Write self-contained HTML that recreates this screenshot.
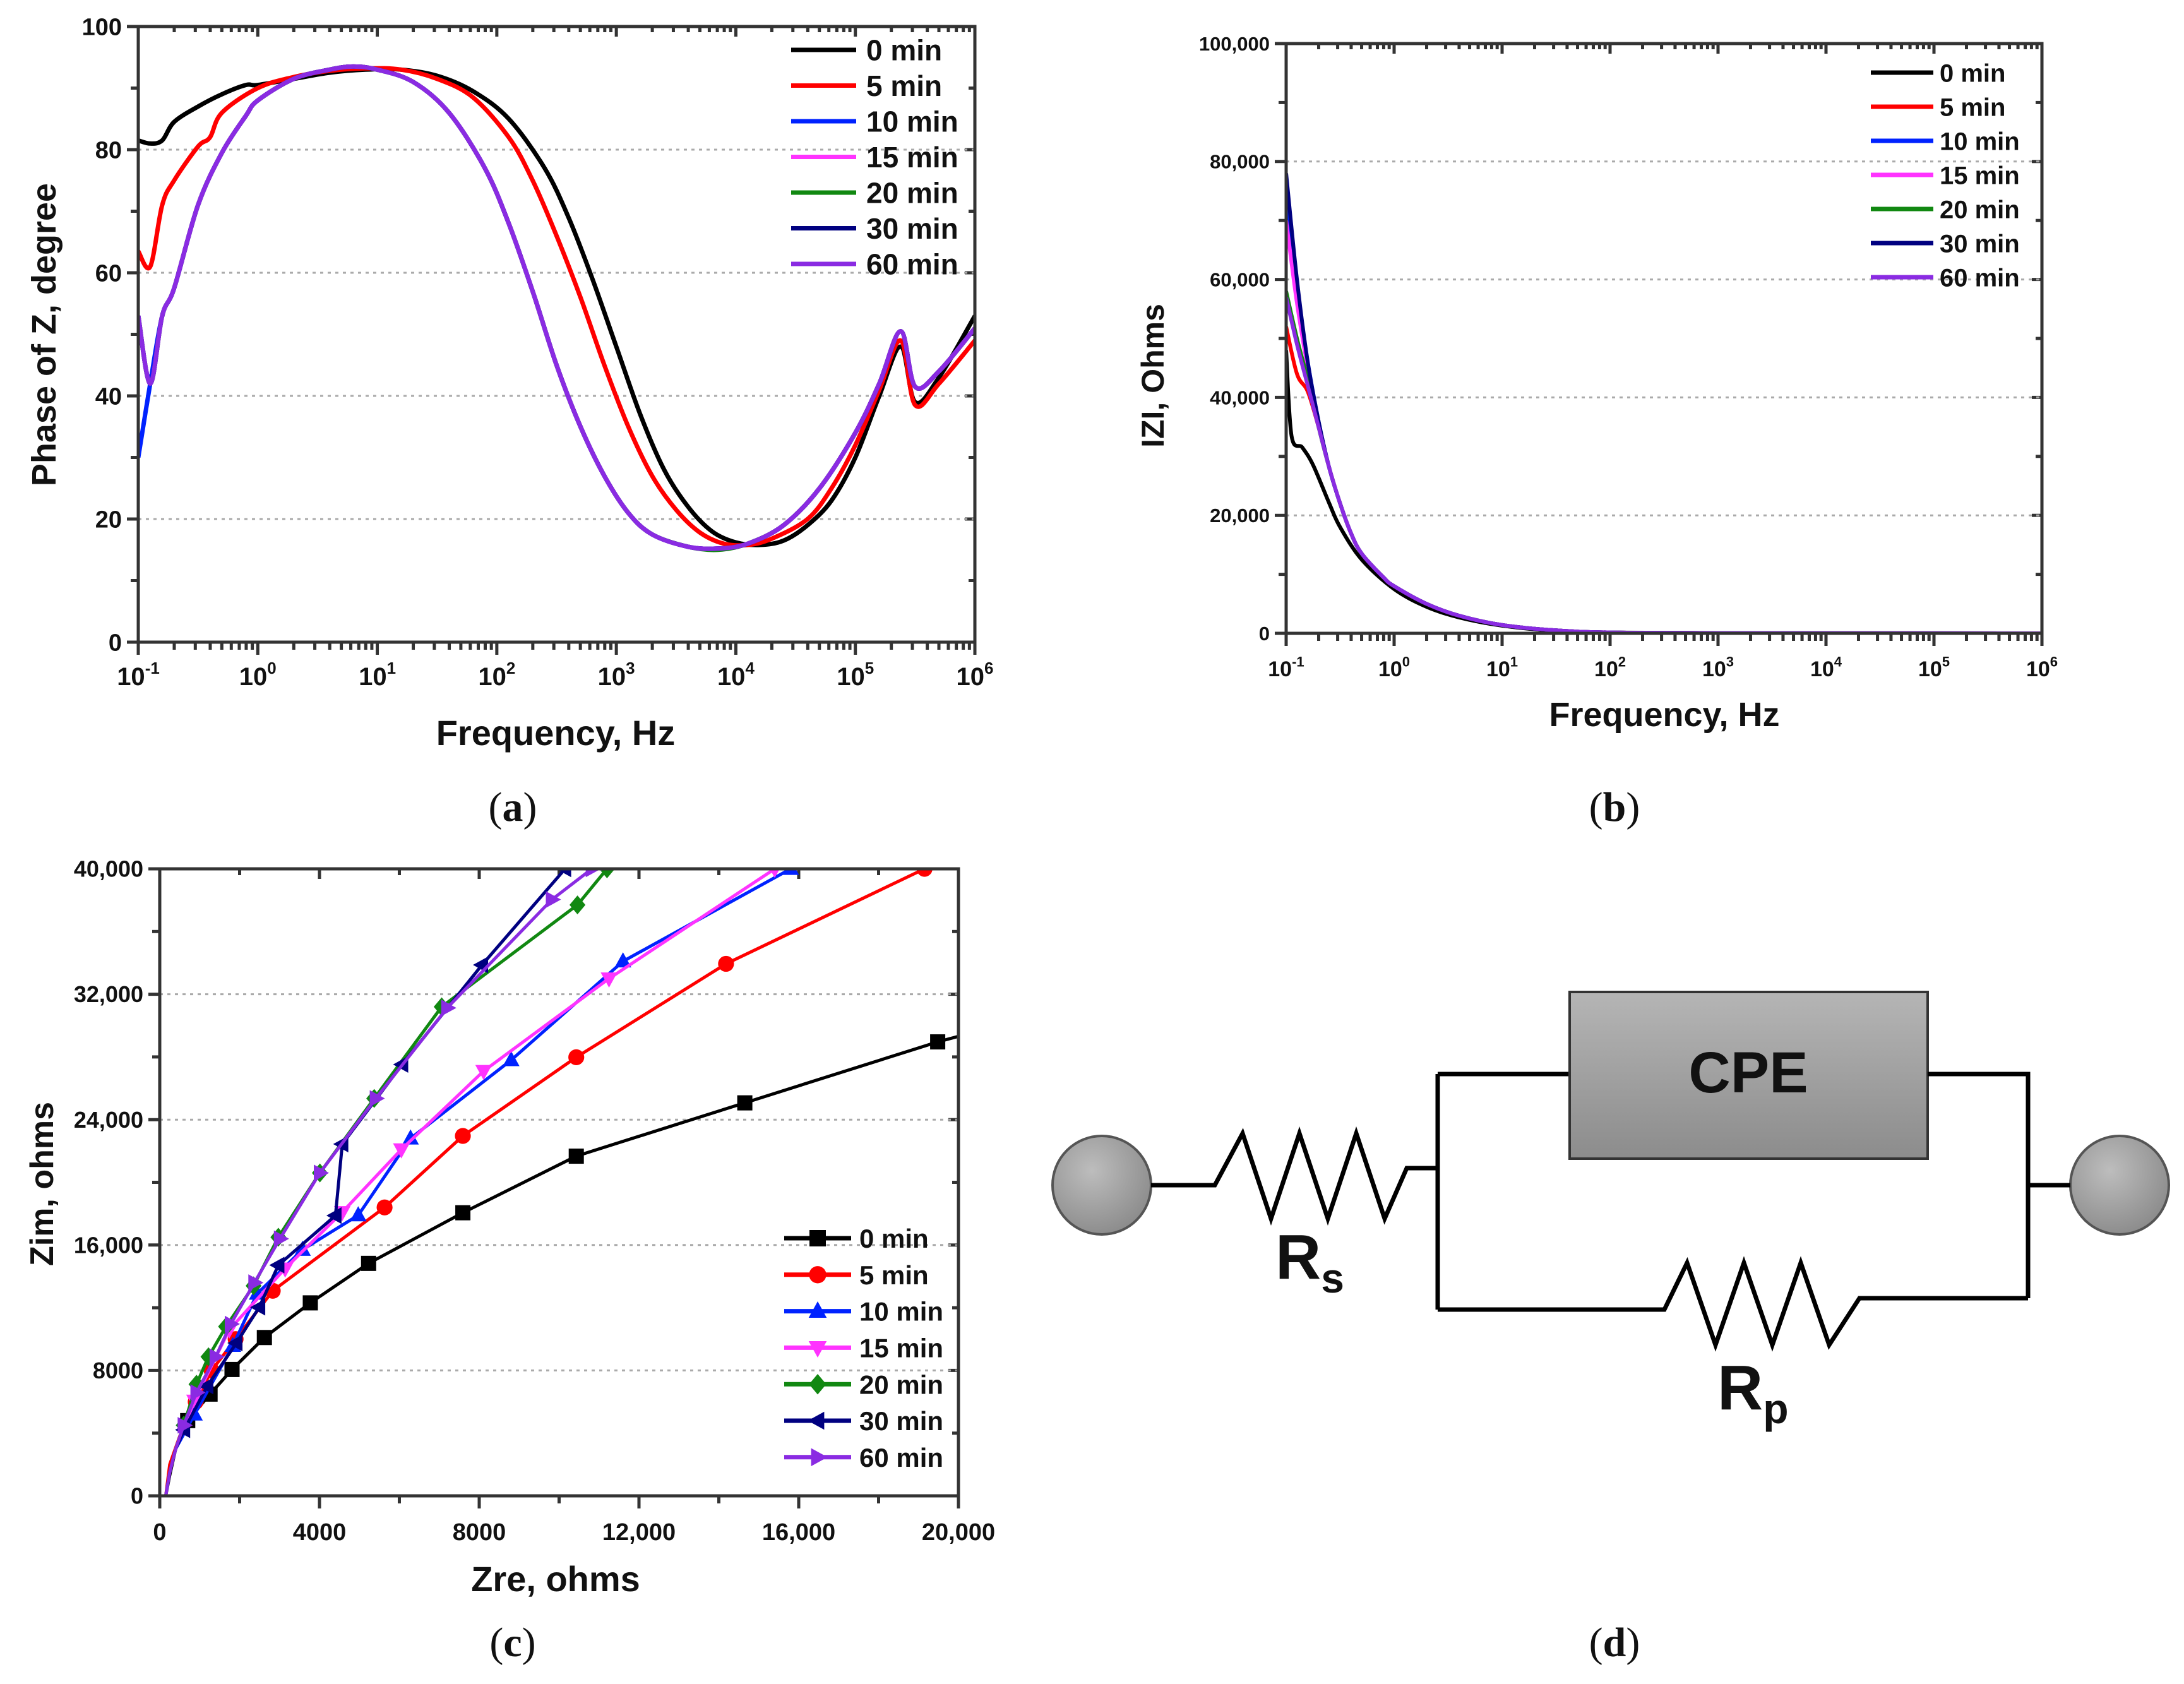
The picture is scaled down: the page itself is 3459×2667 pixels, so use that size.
<!DOCTYPE html>
<html><head><meta charset="utf-8">
<style>
html,body{margin:0;padding:0;background:#fff;}
svg{display:block;}
.t{font-family:"Liberation Sans Narrow","Liberation Sans",sans-serif;font-weight:bold;fill:#111;}
.ta{font-family:"Liberation Sans",sans-serif;font-weight:bold;fill:#111;}
.sf{font-family:"Liberation Serif",serif;fill:#111;}
</style></head>
<body>
<svg id="root" width="3459" height="2667" viewBox="0 0 3459 2667" xmlns="http://www.w3.org/2000/svg">
<rect width="3459" height="2667" fill="#fff"/>
<text class="sf" x="812" y="1300" font-size="66" text-anchor="middle">(<tspan font-weight="bold">a</tspan>)</text>
<text class="sf" x="2557" y="1300" font-size="66" text-anchor="middle">(<tspan font-weight="bold">b</tspan>)</text>
<text class="sf" x="812" y="2623" font-size="66" text-anchor="middle">(<tspan font-weight="bold">c</tspan>)</text>
<text class="sf" x="2557" y="2623" font-size="66" text-anchor="middle">(<tspan font-weight="bold">d</tspan>)</text>
<g id="circuit" stroke="#000" stroke-width="7" fill="none" stroke-linejoin="miter">
  <defs><radialGradient id="gball" cx="0.4" cy="0.35" r="0.7"><stop offset="0" stop-color="#bdbdbd"/><stop offset="1" stop-color="#8a8a8a"/></radialGradient>
  <linearGradient id="gbox" x1="0" y1="0" x2="0" y2="1"><stop offset="0" stop-color="#b5b5b5"/><stop offset="1" stop-color="#8c8c8c"/></linearGradient></defs>
  <circle cx="1745" cy="1877" r="78" fill="url(#gball)" stroke="#555" stroke-width="4"/>
  <circle cx="3357" cy="1877" r="78" fill="url(#gball)" stroke="#555" stroke-width="4"/>
  <polyline points="1823,1877 1924,1877 1968,1795 2013,1930 2058,1795 2103,1930 2148,1795 2193,1930 2228,1850 2277,1850"/>
  <polyline points="2277,1701 2277,2074"/>
  <polyline points="2277,1701 2486,1701"/>
  <rect x="2486" y="1571" width="567" height="264" fill="url(#gbox)" stroke="#333" stroke-width="4"/>
  <polyline points="3053,1701 3212,1701 3212,2056"/>
  <polyline points="3212,1877 3279,1877"/>
  <polyline points="2277,2074 2636,2074 2672,2000 2717,2130 2762,2000 2807,2130 2852,2000 2897,2130 2945,2056 3212,2056"/>
</g>
<text class="ta" x="2769" y="1730" font-size="92" text-anchor="middle">CPE</text>
<text class="ta" x="2020" y="2025" font-size="100">R<tspan font-size="66" dy="22">s</tspan></text>
<text class="ta" x="2720" y="2232" font-size="100">R<tspan font-size="66" dy="22">p</tspan></text>
</svg>
<script>
// ---------- DATA ----------
const seriesNames = ['0 min','5 min','10 min','15 min','20 min','30 min','60 min'];
const seriesColors = ['#000000','#ff0000','#0022ff','#ff33ff','#118811','#000080','#8a2be2'];
// Panel (a): phase vs log10(frequency)
const phaseLogF0 = [-1,-0.9,-0.8,-0.7,-0.5,-0.3,-0.1,0,0.3,0.6,0.9,1.2,1.5,1.8,2.1,2.4,2.6,2.8,3.0,3.2,3.4,3.6,3.8,4.0,4.2,4.4,4.6,4.8,5.0,5.2,5.38,5.5,5.7,6];
const phase0 = [81.5,81,81.5,84.5,87,89,90.5,90.5,91.5,92.5,93,93,92,89.5,85,77,69,59,48,37,28,22,18,16.2,15.8,16.5,19,23,30,40,48,39,43,53];
const phaseLogF5 = [-1,-0.9,-0.8,-0.7,-0.5,-0.4,-0.3,0,0.3,0.6,0.9,1.2,1.5,1.8,2.1,2.3,2.5,2.7,2.9,3.1,3.3,3.5,3.7,3.9,4.1,4.3,4.6,4.8,5.0,5.2,5.38,5.5,5.7,6];
const phase5 = [63.5,61,71,75,80.5,82,86,90,91.8,92.8,93.2,93,91.5,88.5,82,75,66,56,45,35,27,21.5,17.8,16,15.8,16.8,20,25,32,41,49,38.5,42,49];
const phaseLogFX = [-1,-0.9,-0.8,-0.7,-0.5,-0.3,-0.1,0,0.3,0.6,0.8,1.0,1.3,1.6,1.9,2.1,2.3,2.5,2.7,2.9,3.1,3.3,3.6,3.85,4.1,4.4,4.7,5.0,5.2,5.38,5.5,5.7,6];
const phase10 = [30,42,53,57.5,71,79.5,85.5,88,91.5,93,93.5,93,91,86,77,68,57,45,35,27,21,17.5,15.5,15.2,16,19,25,34,42,50.5,41.5,44,51];
const phase15 = [53,42,53,57.5,71,79.5,85.5,88,91.5,93,93.5,93,91,86,77,68,57,45,35,27,21,17.5,15.5,15.2,16,19,25,34,42,50.5,41.5,44,51];
const phase20 = [53,42,53,57.5,71,79.5,85.5,88,91.5,93,93.5,93,91,86,77,68,57,45,35,27,21,17.5,15.5,15.0,16,19,25,34,42,50.5,41.5,44,51];
const phase30 = [53,42,53,57.5,71,79.5,85.5,88,91.5,93,93.5,93,91,86,77,68,57,45,35,27,21,17.5,15.5,15.2,16,19,25,34,42,50.5,41.5,44,51];
const phase60 = [53,42,53,57.5,71,79.5,85.5,88,91.5,93,93.5,93,91,86,77,68,57,45,35,27,21,17.5,15.5,15.2,16,19,25,34,42,50.5,41.5,44,51];
// Panel (b): |Z| vs log10(frequency)
const zLogF0 = [-1,-0.95,-0.85,-0.75,-0.6,-0.5,-0.3,0,0.3,0.6,1,1.5,2,3,6];
const zmod0 = [48000,33500,31500,28500,22000,18000,12500,7500,4500,2700,1300,400,150,50,0];
const zLogF = [-1,-0.9,-0.8,-0.7,-0.6,-0.5,-0.4,-0.3,-0.1,0,0.3,0.6,1,1.5,2,3,6];
const zmod5 = [52000,44000,41000,35000,28000,22000,17000,13500,9500,8000,5000,3000,1400,500,150,40,0];
const zmod10 = [72000,58000,46000,36000,28000,22000,17000,13500,9500,8000,5000,3000,1400,500,150,40,0];
const zmod15 = [70000,56000,45000,35500,28000,22000,17000,13500,9500,8000,5000,3000,1400,500,150,40,0];
const zmod20 = [58000,50000,43000,35000,28000,22000,17000,13500,9500,8000,5000,3000,1400,500,150,40,0];
const zmod30 = [78000,60000,46000,36000,28000,22000,17000,13500,9500,8000,5000,3000,1400,500,150,40,0];
const zmod60 = [57000,49000,42000,35000,28000,22000,17000,13500,9500,8000,5000,3000,1400,500,150,40,0];
// Panel (c): Nyquist (Zre, Zim) in ohms
const zre0 = [150,250,400,700,1260,1810,2620,3770,5230,7590,10430,14650,19480,21000];
const zim0 = [0,1300,3000,4800,6490,8060,10100,12310,14830,18060,21670,25070,28960,30000];
const zre5 = [150,250,500,900,1300,1900,2830,5630,7590,10430,14180,19150,20500];
const zim5 = [0,2000,3800,6000,8000,10000,13080,18400,22960,27980,33940,40000,40900];
const zre10 = [150,250,400,870,1830,2440,3575,4970,6280,8800,11600,15800,16500];
const zim10 = [0,1500,3000,5190,9570,12900,15700,17900,22800,27800,34100,40000,40600];
const zre15 = [150,250,400,870,1740,3140,4570,6050,8110,11250,15400,16000];
const zim15 = [0,1500,3000,6070,10600,14500,18100,22100,27100,33000,40000,40600];
const zre20 = [150,250,400,600,920,1220,1660,2350,2970,4010,5370,7060,10460,11200,11600];
const zim20 = [0,1500,3000,4500,7120,8870,10800,13400,16500,20600,25350,31200,37700,40000,40800];
const zre30 = [150,250,400,610,1190,1920,2490,2970,4400,4570,6070,8070,10150,10500];
const zim30 = [0,1500,3000,4210,7010,9750,12030,14720,17880,22440,27520,33870,40000,40800];
const zre60 = [150,250,400,600,920,1400,1780,2370,3010,4010,5410,7200,9820,10820,11200];
const zim60 = [0,1500,3000,4500,6590,8870,10960,13600,16400,20600,25350,31130,38040,40000,40400];
const markerEvery = [1,1,1,1,1,1,1];
const phaseTicks = [0,20,40,60,80,100];
const zmodTicks = [0,20000,40000,60000,80000,100000];
const zmodTickLabels = ['0','20,000','40,000','60,000','80,000','100,000'];
const nyqXTicks = [0,4000,8000,12000,16000,20000];
const nyqXTickLabels = ['0','4000','8000','12,000','16,000','20,000'];
const nyqYTicks = [0,8000,16000,24000,32000,40000];
const nyqYTickLabels = ['0','8000','16,000','24,000','32,000','40,000'];
const decades = [-1,0,1,2,3,4,5,6];

// ---------- HELPERS ----------
const NS='http://www.w3.org/2000/svg';
const root=document.getElementById('root');
function mk(tag,attrs,parent){const e=document.createElementNS(NS,tag);for(const k in attrs)e.setAttribute(k,attrs[k]);(parent||root).appendChild(e);return e;}
function pathFrom(xs,ys,sx,sy){return xs.map((x,i)=>(i?'L':'M')+sx(x).toFixed(1)+','+sy(ys[i]).toFixed(1)).join(' ');}
function smoothPath(xs,ys,sx,sy){
  const P=xs.map((x,i)=>[sx(x),sy(ys[i])]);
  let d='M'+P[0][0].toFixed(1)+','+P[0][1].toFixed(1);
  for(let i=0;i<P.length-1;i++){
    const p0=P[Math.max(0,i-1)],p1=P[i],p2=P[i+1],p3=P[Math.min(P.length-1,i+2)];
    const c1=[p1[0]+(p2[0]-p0[0])/6,p1[1]+(p2[1]-p0[1])/6];
    const c2=[p2[0]-(p3[0]-p1[0])/6,p2[1]-(p3[1]-p1[1])/6];
    d+=' C'+c1[0].toFixed(1)+','+c1[1].toFixed(1)+' '+c2[0].toFixed(1)+','+c2[1].toFixed(1)+' '+p2[0].toFixed(1)+','+p2[1].toFixed(1);
  }
  return d;
}

function frame(g,L,T,R,B,name){
  const r=mk('rect',{x:L,y:T,width:R-L,height:B-T,fill:'none',stroke:'#333',"stroke-width":5},g);
  
  
}
function hgrid(g,L,R,y,name){
  const l=mk('line',{x1:L,x2:R,y1:y,y2:y,stroke:'#aaa',"stroke-width":3,"stroke-dasharray":"5,7"},g);
  
  
}
function tick(g,x1,y1,x2,y2){mk('line',{x1:x1,y1:y1,x2:x2,y2:y2,stroke:'#333',"stroke-width":5},g);}

function logXAxis(g,sx,B,T,fs,name){
  decades.forEach(d=>{
    const x=sx(d);
    tick(g,x,B,x,B+20);tick(g,x,T,x,T+16);
    const t=mk('text',{x:x,y:B+68,"font-size":fs,"text-anchor":"middle",class:'ta'},g);
    
    
    t.textContent='10';
    const s=mk('tspan',{dy:-fs*0.45,"font-size":fs*0.65},t);s.textContent=(d<0?'-':'')+Math.abs(d);
    if(d<6){for(let k=2;k<10;k++){const xm=sx(d+Math.log10(k));tick(g,xm,B,xm,B+12);tick(g,xm,T,xm,T+9);}}
  });
}
function linYAxis(g,sy,L,R,ticks,labels,fs,name){
  ticks.forEach((v,i)=>{
    const y=sy(v);
    tick(g,L-18,y,L,y);tick(g,R-16,y,R,y);
    if(i<ticks.length-1){const ym=(y+sy(ticks[i+1]))/2;tick(g,L-12,ym,L,ym);tick(g,R-10,ym,R,ym);}
    if(i>0&&i<ticks.length-1)hgrid(g,L,R,y,name);
    const t=mk('text',{x:L-26,y:y+fs*0.35,"font-size":fs,"text-anchor":"end",class:'t'},g);
    
    
    t.textContent=labels[i];
  });
}
function legend(g,x1,x2,tx,y0,dy,fs,name,withMarkers){
  seriesNames.forEach((n,i)=>{
    const y=y0+dy*i;
    const l=mk('line',{x1:x1,x2:x2,y1:y,y2:y,stroke:seriesColors[i],"stroke-width":7},g);
    
    
    if(withMarkers)marker(g,(x1+x2)/2,y,i,26);
    const t=mk('text',{x:tx,y:y+fs*0.36,"font-size":fs,class:'t'},g);
    
    
    t.textContent=n;
  });
}
function marker(g,x,y,i,s){
  const c=seriesColors[i],h=s/2;let e;
  if(i===0)e=mk('rect',{x:x-h,y:y-h,width:s,height:s,fill:c},g);
  else if(i===1)e=mk('circle',{cx:x,cy:y,r:h*1.05,fill:c},g);
  else{
    let p;
    if(i===2)p=[[x,y-h*1.2],[x+h*1.1,y+h*0.8],[x-h*1.1,y+h*0.8]];
    else if(i===3)p=[[x,y+h*1.2],[x+h*1.1,y-h*0.8],[x-h*1.1,y-h*0.8]];
    else if(i===4)p=[[x,y-h*1.25],[x+h*1.05,y],[x,y+h*1.25],[x-h*1.05,y]];
    else if(i===5)p=[[x-h*1.2,y],[x+h*0.8,y-h*1.1],[x+h*0.8,y+h*1.1]];
    else p=[[x+h*1.2,y],[x-h*0.8,y-h*1.1],[x-h*0.8,y+h*1.1]];
    e=mk('polygon',{points:p.map(q=>q.join(',')).join(' '),fill:c},g);
  }
  
  
}
function axisTitleY(g,x,y,txt,fs,name,cls){
  const t=mk('text',{x:x,y:y,"font-size":fs,"text-anchor":"middle",class:cls||'ta',transform:'rotate(-90 '+x+' '+y+')'},g);
  
  
  t.textContent=txt;
}
function axisTitleX(g,x,y,txt,fs,name){
  const t=mk('text',{x:x,y:y,"font-size":fs,"text-anchor":"middle",class:'t'},g);
  
  
  t.textContent=txt;
}
function clip(id,L,T,R,B){const cp=mk('clipPath',{id:id});mk('rect',{x:L,y:T,width:R-L,height:B-T},cp);}

// ---------- PANEL A ----------
(function(){
  const L=219,T=42,R=1544,B=1017;
  const g=mk('g',{});
  
  
  const sx=v=>L+(v+1)/7*(R-L), sy=v=>B-v/100*(B-T);
  linYAxis(g,sy,L,R,phaseTicks,phaseTicks.map(String),38,'phase');
  logXAxis(g,sx,B,T,40,'phase');
  clip('ca',L,T,R,B);
  const lines=[[phaseLogF0,phase0],[phaseLogF5,phase5],[phaseLogFX,phase10],[phaseLogFX,phase15],[phaseLogFX,phase20],[phaseLogFX,phase30],[phaseLogFX,phase60]];
  lines.forEach((s,i)=>{
    const p=mk('path',{d:smoothPath(s[0],s[1],sx,sy),fill:'none',stroke:seriesColors[i],"stroke-width":7,"stroke-linejoin":"round","clip-path":"url(#ca)"},g);
    
    
  });
  frame(g,L,T,R,B,'phase');
  legend(g,1253,1356,1372,79,56.5,46,'phase',false);
  axisTitleY(g,88,530,'Phase of Z, degree',54,'phase');
  axisTitleX(g,880,1180,'Frequency, Hz',56,'phase');
})();

// ---------- PANEL B ----------
(function(){
  const L=2037,T=69,R=3234,B=1003;
  const g=mk('g',{});
  
  
  const sx=v=>L+(v+1)/7*(R-L), sy=v=>B-v/100000*(B-T);
  linYAxis(g,sy,L,R,zmodTicks,zmodTickLabels,31,'modulus');
  logXAxis(g,sx,B,T,34,'modulus');
  clip('cb',L,T,R,B);
  const lines=[[zLogF0,zmod0],[zLogF,zmod5],[zLogF,zmod10],[zLogF,zmod15],[zLogF,zmod20],[zLogF,zmod30],[zLogF,zmod60]];
  lines.forEach((s,i)=>{
    const p=mk('path',{d:smoothPath(s[0],s[1],sx,sy),fill:'none',stroke:seriesColors[i],"stroke-width":6,"stroke-linejoin":"round","clip-path":"url(#cb)"},g);
    
    
  });
  frame(g,L,T,R,B,'modulus');
  legend(g,2963,3062,3072,115,54,40,'modulus',false);
  axisTitleY(g,1843,595,'IZI, Ohms',50,'modulus');
  axisTitleX(g,2636,1150,'Frequency, Hz',54,'modulus');
})();

// ---------- PANEL C ----------
(function(){
  const L=253,T=1376,R=1518,B=2369;
  const g=mk('g',{});
  
  
  const sx=v=>L+v/20000*(R-L), sy=v=>B-v/40000*(B-T);
  linYAxis(g,sy,L,R,nyqYTicks,nyqYTickLabels,36,'nyquist');
  nyqXTicks.forEach((v,i)=>{
    const x=sx(v);tick(g,x,B,x,B+20);tick(g,x,T,x,T+16);
    if(i<nyqXTicks.length-1){const xm=(x+sx(nyqXTicks[i+1]))/2;tick(g,xm,B,xm,B+12);tick(g,xm,T,xm,T+10);}
    const t=mk('text',{x:x,y:B+70,"font-size":38,"text-anchor":"middle",class:'t'},g);
    
    
    t.textContent=nyqXTickLabels[i];
  });
  clip('cc',L,T,R,B);
  const xs=[zre0,zre5,zre10,zre15,zre20,zre30,zre60], ys=[zim0,zim5,zim10,zim15,zim20,zim30,zim60];
  xs.forEach((xv,i)=>{
    const sg=mk('g',{"clip-path":"url(#cc)"},g);
    
    
    const p=mk('path',{d:pathFrom(xv,ys[i],sx,sy),fill:'none',stroke:seriesColors[i],"stroke-width":5,"stroke-linejoin":"round"},sg);
    
    
    xv.forEach((x,j)=>{ if(j>=3&&j%markerEvery[i]===0) marker(sg,sx(x),sy(ys[i][j]),i,24); });
  });
  frame(g,L,T,R,B,'nyquist');
  legend(g,1242,1348,1361,1961,57.8,42,'nyquist',true);
  axisTitleY(g,84,1875,'Zim, ohms',52,'nyquist');
  axisTitleX(g,880,2520,'Zre, ohms',56,'nyquist');
})();
</script>
</body></html>
